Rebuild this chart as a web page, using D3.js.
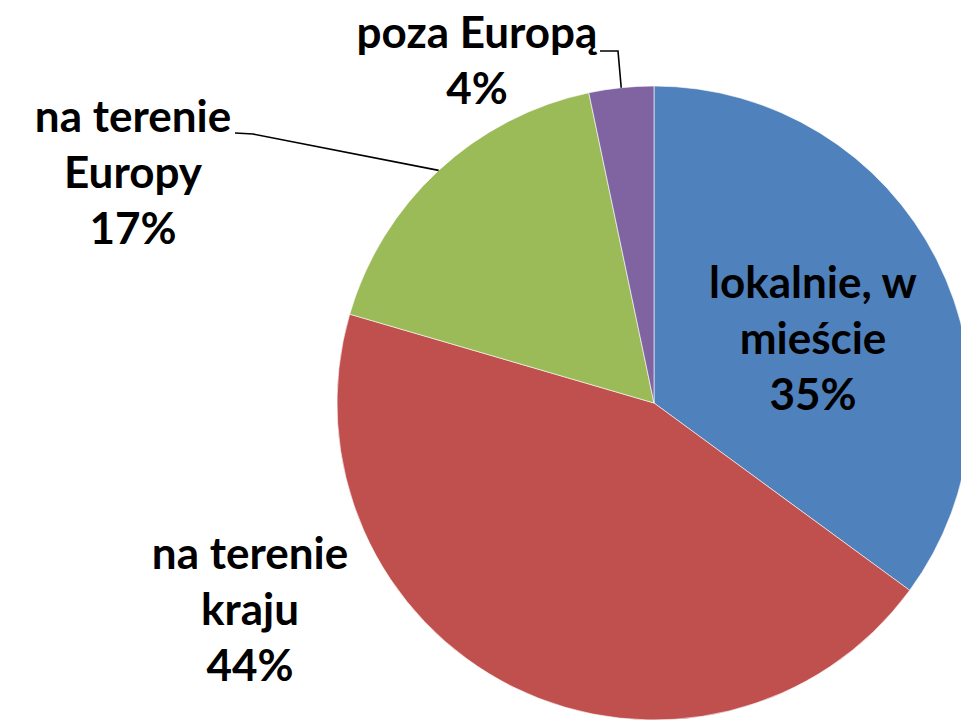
<!DOCTYPE html>
<html>
<head>
<meta charset="utf-8">
<script src="https://cdn.jsdelivr.net/npm/d3@7"></script>
<style>
html,body{margin:0;padding:0;background:#fff;overflow:hidden;}
svg{display:block;}
text{font-family:"Lato","Open Sans",sans-serif;font-weight:700;fill:#000;}
</style>
</head>
<body>
<svg id="chart" width="961" height="720"></svg>
<script>
// ---- data ----
const categories = ["lokalnie, w mieście", "na terenie kraju", "na terenie Europy", "poza Europą"];
const values = [35.1, 44.5, 17.2, 3.3];
const pctLabels = ["35%", "44%", "17%", "4%"];
const labelLines = [["lokalnie, w", "mieście"], ["na terenie", "kraju"], ["na terenie", "Europy"], ["poza Europą"]];
const colors = ["#4F81BD", "#C0504D", "#9BBB59", "#8064A2"];

// ---- layout ----
const W = 961, H = 720;
const cx = 654, cy = 403, R = 317;
const fontSize = 44, lineH = 56;
// label anchor (center x, first baseline y) relative to pie centre
const labelOffsets = [
  {dx: 159, dy: -105},
  {dx: -404, dy: 166},
  {dx: -521, dy: -271},
  {dx: -177, dy: -355}
];
// which labels have a leader line, and the elbow point of the line relative to centre
const leaders = [null, null,
  {from: [-419, -270], elbow: [-401, -269]},
  {from: [-54, -352], elbow: [-36, -352]}
];

const svg = d3.select("#chart");
const g = svg.append("g").attr("transform", `translate(${cx},${cy})`);

const pie = d3.pie().sort(null).value(d => d.value).startAngle(0).endAngle(2 * Math.PI);
const data = categories.map((c, i) => ({cat: c, value: values[i], pct: pctLabels[i], lines: labelLines[i], color: colors[i], idx: i}));
const arcs = pie(data);
const arc = d3.arc().innerRadius(0).outerRadius(R);

g.selectAll("path.slice").data(arcs).enter().append("path")
  .attr("class", "slice")
  .attr("d", arc)
  .attr("fill", d => d.data.color)
  .attr("stroke", "#ffffff")
  .attr("stroke-width", 0.6);

// leader lines
arcs.forEach((a, i) => {
  const L = leaders[i];
  if (!L) return;
  const mid = (a.startAngle + a.endAngle) / 2;
  const ex = Math.sin(mid) * R, ey = -Math.cos(mid) * R;
  const pts = [L.from, L.elbow, [ex, ey]];
  g.append("path")
    .attr("d", d3.line()(pts))
    .attr("fill", "none")
    .attr("stroke", "#000")
    .attr("stroke-width", 1.6);
});

// labels
arcs.forEach((a, i) => {
  const o = labelOffsets[i];
  const t = g.append("text")
    .attr("text-anchor", "middle")
    .attr("font-size", fontSize)
    .attr("x", o.dx).attr("y", o.dy);
  const lines = a.data.lines.concat([a.data.pct]);
  lines.forEach((ln, k) => {
    t.append("tspan").attr("x", o.dx).attr("y", o.dy + k * lineH).text(ln);
  });
});
</script>
</body>
</html>
